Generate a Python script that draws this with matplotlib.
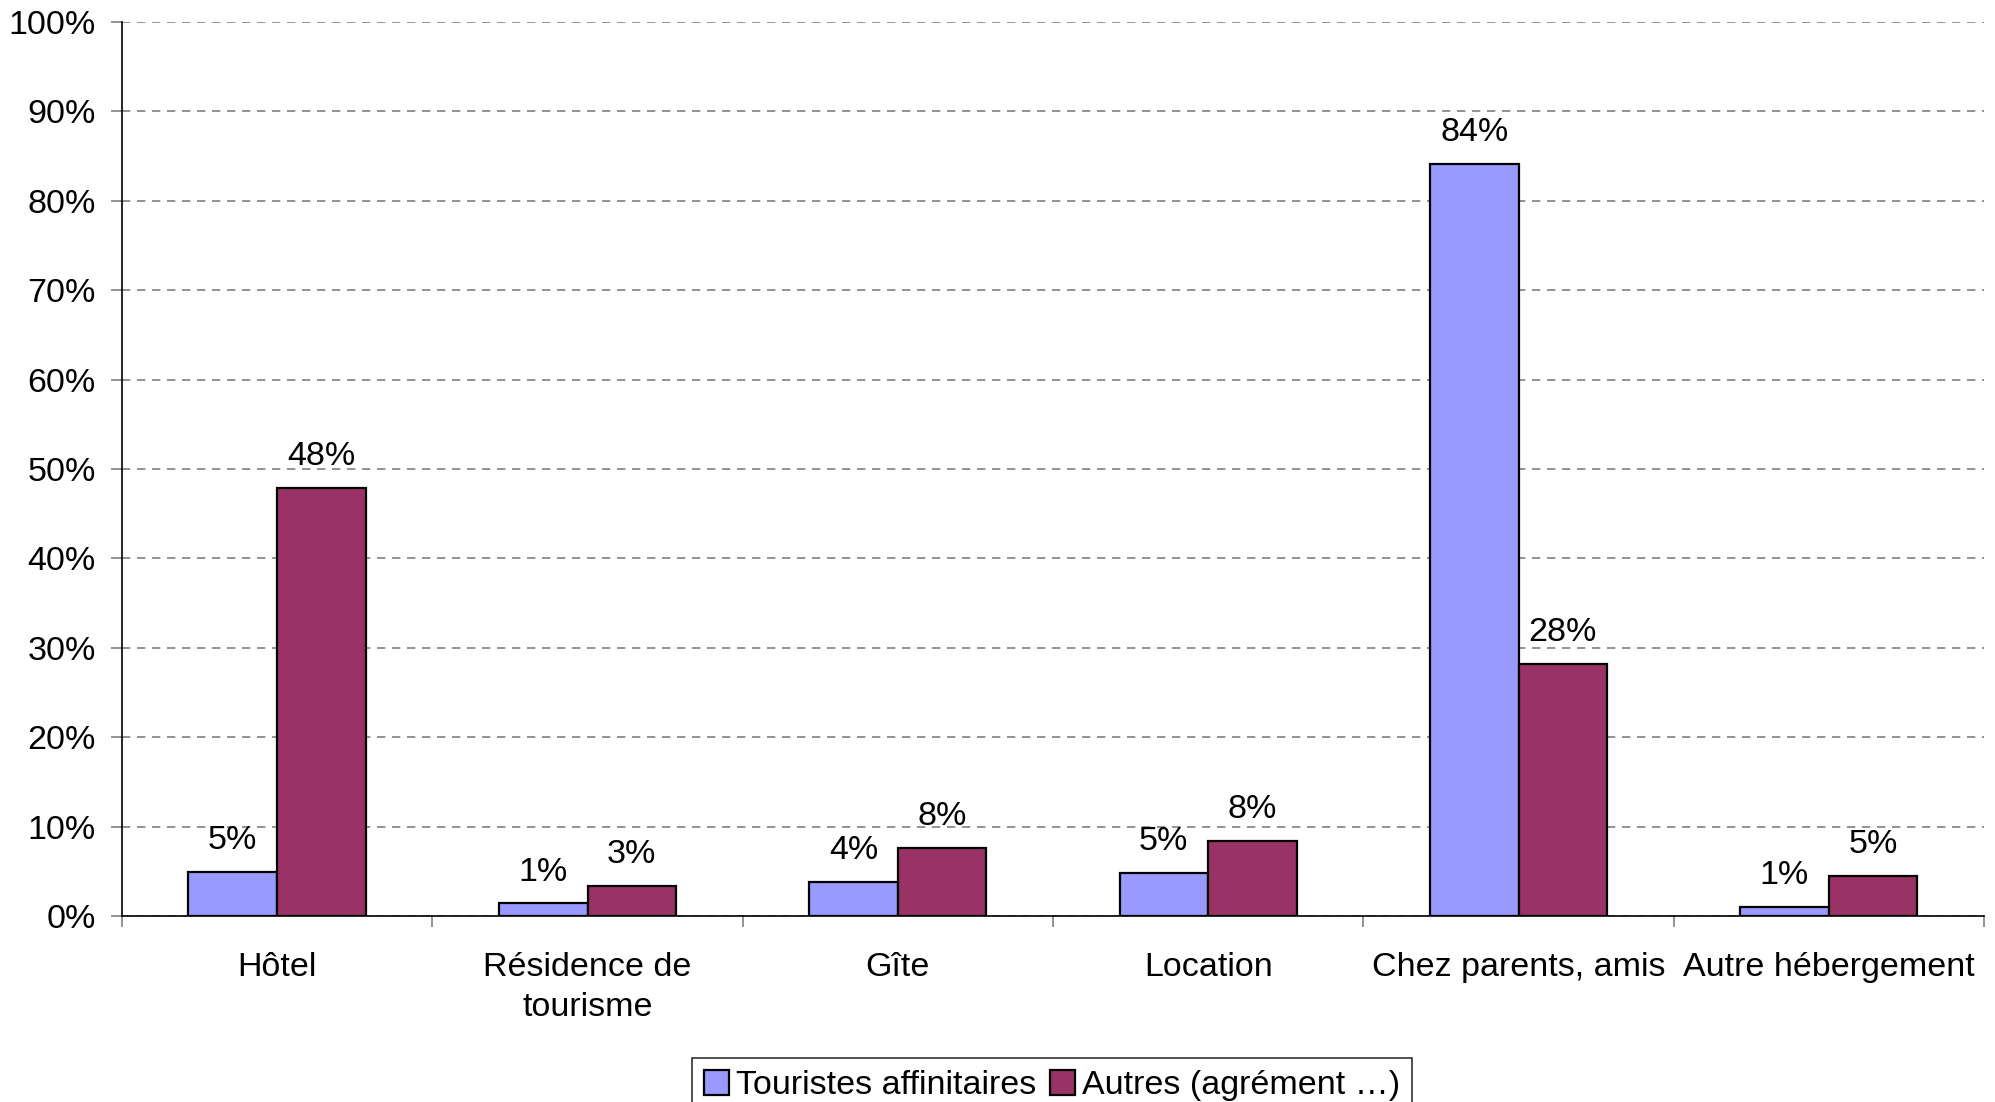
import matplotlib
matplotlib.use("Agg")
import matplotlib.pyplot as plt
from matplotlib.ticker import FixedLocator, FuncFormatter
import numpy as np

plt.rcParams['font.family'] = ['Liberation Sans', 'DejaVu Sans']

categories = ["Hôtel", "Résidence de\ntourisme", "Gîte", "Location",
              "Chez parents, amis", "Autre hébergement"]
affinitaires = [4.9, 1.4, 3.8, 4.8, 84.1, 1.0]
autres = [47.9, 3.4, 7.6, 8.4, 28.2, 4.5]
series_names = ["Touristes affinitaires", "Autres (agrément …)"]
y_ticks = list(range(0, 101, 10))

blue = "#9999FF"
plum = "#993366"
fs = 24.5


def pct(v):
    # round half up, as a spreadsheet does
    return f"{int(v + 0.5)}%"


fig = plt.figure(figsize=(19.95, 11.02), dpi=100)
ax = fig.add_axes([122 / 1995, 1 - 916 / 1102, (1984 - 122) / 1995, (916 - 22) / 1102])

x = np.arange(len(categories))
w = 1 / 3.5
b1 = ax.bar(x - w / 2, affinitaires, w, color=blue, edgecolor="black", linewidth=1.6,
            label=series_names[0], zorder=3)
b2 = ax.bar(x + w / 2, autres, w, color=plum, edgecolor="black", linewidth=1.6,
            label=series_names[1], zorder=3)

for bars, vals in ((b1, affinitaires), (b2, autres)):
    for rect, v in zip(bars, vals):
        ax.annotate(pct(v), (rect.get_x() + rect.get_width() / 2, v),
                    xytext=(0, 22.5), textcoords="offset points",
                    ha="center", va="center", fontsize=fs, zorder=4)

ax.set_xlim(-0.5, len(categories) - 0.5)
ax.set_ylim(0, 100)

ax.yaxis.set_major_locator(FixedLocator(y_ticks))
ax.yaxis.set_major_formatter(FuncFormatter(lambda v, p: f"{v:.0f}%"))
ax.tick_params(axis="y", direction="out", length=8, width=1.2, color="#808080",
               labelsize=fs, pad=11)
ax.grid(axis="y", linestyle=(0, (5, 4)), color="#808080", linewidth=1.2, zorder=0)

ax.set_xticks(np.arange(-0.5, len(categories), 1.0))
ax.set_xticklabels([])
ax.set_xticks(x, minor=True)
ax.set_xticklabels(categories, minor=True, fontsize=fs, linespacing=1.38)
ax.tick_params(axis="x", which="major", direction="out", length=8, width=1.2, color="#808080")
ax.tick_params(axis="x", which="minor", length=0, pad=26)

for s in ("top", "right"):
    ax.spines[s].set_visible(False)
for s in ("left", "bottom"):
    ax.spines[s].set_color("black")
    ax.spines[s].set_linewidth(1.2)
ax.spines["bottom"].set_zorder(5)

leg = fig.legend(handles=[b1, b2], loc="upper center",
                 bbox_to_anchor=(1052 / 1995, 1 - 1058 / 1102), ncol=2,
                 fontsize=fs, frameon=True, fancybox=False, edgecolor="black",
                 handlelength=0.75, handleheight=0.75, handletextpad=0.2,
                 columnspacing=0.4, borderpad=0.35, borderaxespad=0)
leg.get_frame().set_linewidth(1.2)

fig.savefig("out.png", dpi=100)
